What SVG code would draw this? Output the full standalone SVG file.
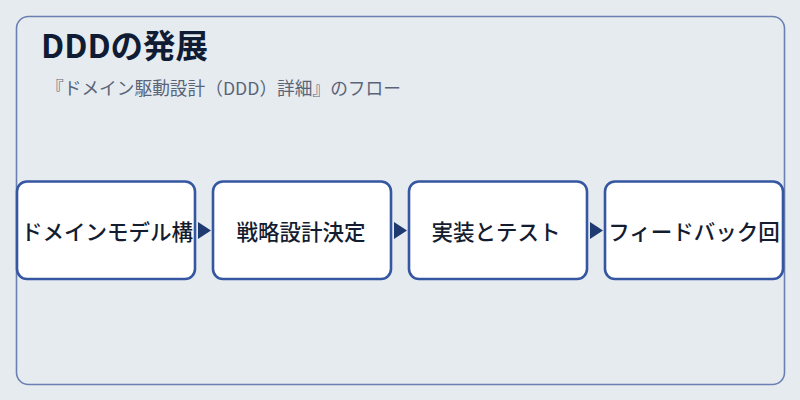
<svg xmlns="http://www.w3.org/2000/svg" width="800" height="400" viewBox="0 0 800 400">
<style>
.bg{fill:#e6ebf0}
.frame{fill:#e6ebf0;stroke:#6a80b0;stroke-width:1.6}
.node rect{fill:#ffffff;stroke:#3556a0;stroke-width:2.6}
.node text{font-family:"Noto Sans CJK JP","Noto Sans",sans-serif;font-weight:500;font-size:21.5px;fill:#141c30;text-anchor:middle;dominant-baseline:central}
.title{font-family:"Noto Sans CJK JP","Noto Sans",sans-serif;font-weight:bold;font-size:32.5px;fill:#0f1c33}
.sub{font-family:"Noto Sans CJK JP","Noto Sans",sans-serif;font-size:17.7px;fill:#5a6478}
.arrow{fill:#1f3a70}
</style>
<rect class="bg" x="0" y="0" width="800" height="400"/>
<rect class="frame" x="16.5" y="16.5" width="768" height="368" rx="12"/>
<text class="title" x="41" y="58">DDDの発展</text>
<text class="sub" x="46" y="95">『ドメイン駆動設計（DDD）詳細』のフロー</text>
<g id="connectors">
<polygon class="arrow" points="198,222 211,230.5 198,239"/>
<polygon class="arrow" points="394,222 407,230.5 394,239"/>
<polygon class="arrow" points="590,222 603,230.5 590,239"/>
</g>
<g id="node1" class="node"><rect x="17" y="181.5" width="178" height="97.5" rx="10"/><text x="107" y="230">ドメインモデル構</text></g>
<g id="node2" class="node"><rect x="213" y="181.5" width="178" height="97.5" rx="10"/><text x="301" y="230">戦略設計決定</text></g>
<g id="node3" class="node"><rect x="409" y="181.5" width="178" height="97.5" rx="10"/><text x="496" y="230">実装とテスト</text></g>
<g id="node4" class="node"><rect x="605" y="181.5" width="178" height="97.5" rx="10"/><text x="694" y="230">フィードバック回</text></g>
</svg>
